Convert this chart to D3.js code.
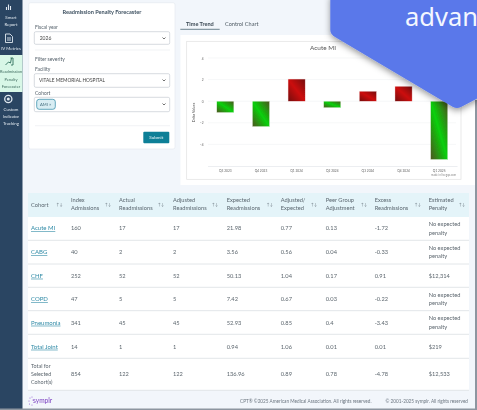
<!DOCTYPE html>
<html><head><meta charset="utf-8">
<script src="https://cdn.jsdelivr.net/npm/d3@7"></script>
<style>html,body{margin:0;padding:0;background:#f2f6fb;overflow:hidden}svg{display:block}text{font-family:Lato,sans-serif}</style>
</head><body><div id="c"></div>
<script>
const quarters=["Q3 2023","Q4 2023","Q1 2024","Q2 2024","Q3 2024","Q4 2024","Q1 2025"];
const deltaValues=[-1.05,-2.35,2.05,-0.6,0.92,1.38,-5.4];
const yTicks=[4,2,0,-2,-4];
const headers=[["Cohort"],["Index","Admissions"],["Actual","Readmissions"],["Adjusted","Readmissions"],["Expected","Readmissions"],["Adjusted/","Expected"],["Peer Group","Adjustment"],["Excess","Readmissions"],["Estimated","Penalty"]];
const cohorts=["Acute MI","CABG","CHF","COPD","Pneumonia","Total Joint"];
const indexAdmissions=["160","40","252","47","341","14","854"];
const actualReadmissions=["17","2","52","5","45","1","122"];
const adjustedReadmissions=["17","2","52","5","45","1","122"];
const expectedReadmissions=["21.98","3.56","50.13","7.42","52.93","0.94","136.96"];
const adjustedExpected=["0.77","0.56","1.04","0.67","0.85","1.06","0.89"];
const peerGroup=["0.13","0.04","0.17","0.03","0.4","0.01","0.78"];
const excess=["-1.72","-0.33","0.91","-0.22","-3.43","0.01","-4.78"];
const penalty=["No expected penalty","No expected penalty","$12,314","No expected penalty","No expected penalty","$219","$12,533"];
const totalLabel=["Total for","Selected","Cohort(s)"];
const navItems=[["Smart","Report"],["IV Metrics"],["Readmission","Penalty","Forecaster"],["Custom","Indicator","Tracking"]];

const svg=d3.select("#c").append("svg").attr("width",477).attr("height",410);
const defs=svg.append("defs");
defs.append("filter").attr("id","soft").attr("x","-2%").attr("y","-2%").attr("width","104%").attr("height","104%")
 .append("feGaussianBlur").attr("stdDeviation",0.45);
const sh=defs.append("filter").attr("id","sh").attr("x","-10%").attr("y","-10%").attr("width","120%").attr("height","130%");
sh.append("feDropShadow").attr("dx",0).attr("dy",2.5).attr("stdDeviation",3).attr("flood-color","#000").attr("flood-opacity",0.4);
const grad=(id,e,m)=>{const g=defs.append("linearGradient").attr("id",id).attr("x1","0").attr("y1","1").attr("x2","1").attr("y2","0");
 g.append("stop").attr("offset","0%").attr("stop-color",e);g.append("stop").attr("offset","50%").attr("stop-color",m);g.append("stop").attr("offset","100%").attr("stop-color",e);};
grad("gG","#4f5220","#08d008");grad("gR","#740b0b","#cc0a0a");

const root=svg.append("g").attr("filter","url(#soft)");
root.append("rect").attr("width",477).attr("height",410).attr("fill","#f2f6fb");
// sidebar
const side=root.append("g");
side.append("rect").attr("width",22.5).attr("height",410).attr("fill","#2b4562");
side.append("rect").attr("y",55).attr("width",22.5).attr("height",37).attr("fill","#d8f7e7");
const sideT=side.append("g");
const navY=[[19,26],[50],[73,80.5,87.5],[111,118,125]];
navItems.forEach((it,i)=>it.forEach((t,j)=>sideT.append("text").attr("x",11).attr("y",navY[i][j]).attr("text-anchor","middle").attr("font-size",i===2?4:(i===3&&j===1?4.2:4.4)).attr("fill",i===2?"#3f6b5f":"#dfe8ef").text(t)));
sideT.append("path").attr("d","M6.500 10V7M8.500 10V4.500M10.500 10V6").attr("stroke","#dfe8ef").attr("stroke-width",1.1).attr("fill","none");
sideT.append("path").attr("d","M5.500 34h4.500l2.500 2.500V42.500H5.500zM7 38h4M7 40h4").attr("stroke","#dfe8ef").attr("stroke-width",.9).attr("fill","none");
sideT.append("path").attr("d","M5.500 65l3-3 2 1 1-5M10.500 58h2.500V65H11").attr("stroke","#2f6f5c").attr("stroke-width",.9).attr("fill","none");
sideT.append("circle").attr("cx",8.3).attr("cy",99).attr("r",3.6).attr("stroke","#dfe8ef").attr("stroke-width",1.3).attr("fill","none");
sideT.append("circle").attr("cx",8.3).attr("cy",99).attr("r",1.5).attr("fill","#dfe8ef");

// form card
const card=root.append("g");
card.append("rect").attr("x",28.7).attr("y",2.7).attr("width",146.3).attr("height",146.3).attr("rx",2).attr("fill","#fff").attr("stroke","#e3e8ee").attr("stroke-width",.6);
const lbl=(x,y,t,s=5,c="#56626c",a="start",w=400)=>card.append("text").attr("x",x).attr("y",y).attr("font-size",s).attr("fill",c).attr("text-anchor",a).attr("font-weight",w).text(t);
lbl(102,13.800,"Readmission Penalty Forecaster",5.6,"#3d5060","middle",700);
lbl(35,28.500,"Fiscal year");lbl(35,60.500,"Filter severity");lbl(35,70.500,"Facility");lbl(35,94.500,"Cohort");
const box=(y,h)=>card.append("rect").attr("x",34.300).attr("y",y).attr("width",135.400).attr("height",h).attr("rx",1.5).attr("fill","#fff").attr("stroke","#c6ccd2").attr("stroke-width",.7);
const chev=(y)=>card.append("path").attr("d",`M162.500 ${y-1}l1.500 1.500 1.500-1.500`).attr("fill","none").attr("stroke","#333").attr("stroke-width",.7);
box(31.700,12.600);chev(38.500);lbl(39.700,40,"2026",5,"#444");
card.append("path").attr("d","M35 50H170M35 125.700H170").attr("stroke","#ebeef1").attr("stroke-width",.7);
box(73.700,13.600);chev(80.500);lbl(39,82.300,"VITALE MEMORIAL HOSPITAL",4.8,"#444");
box(97.300,14.400);chev(104.500);
card.append("rect").attr("x",36.700).attr("y",99.300).attr("width",18.600).attr("height",10).attr("rx",2.500).attr("fill","#d8edf3").attr("stroke","#3f93ad").attr("stroke-width",.8);
lbl(40,106,"AMI ×",4.2,"#3f6a7a");
card.append("rect").attr("x",143.300).attr("y",131.700).attr("width",26).attr("height",11.600).attr("rx",1).attr("fill","#0f7f97");
lbl(156.300,139.300,"Submit",4.6,"#e8f7fa","middle");

// tabs
root.append("text").attr("x",186).attr("y",25.500).attr("font-size",5.600).attr("font-weight",700).attr("fill","#3d4a55").text("Time Trend");
root.append("text").attr("x",225).attr("y",25.500).attr("font-size",5.600).attr("fill","#4e5a63").text("Control Chart");
root.append("path").attr("d","M180.300 29.300H219.700").attr("stroke","#4d6472").attr("stroke-width",.8);
// chart panel
root.append("rect").attr("x",180.500).attr("y",35).attr("width",296.500).attr("height",150).attr("fill","#fff");
const ch=root.append("g");
ch.append("rect").attr("x",186.700).attr("y",41.300).attr("width",274.300).attr("height",138).attr("fill","#fff").attr("stroke","#e0e0e0").attr("stroke-width",.7);
ch.append("text").attr("x",323).attr("y",50).attr("text-anchor","middle").attr("font-size",6.400).attr("fill","#555").text("Acute MI");
const x=d3.scaleBand().domain(quarters).range([207.500,457]).paddingInner(0.52).paddingOuter(0.26);
const y=d3.scaleLinear().domain([-6,4]).range([166,58]);
const ax=ch.append("g").attr("transform","translate(0,166)").call(d3.axisBottom(x).tickSize(0).tickPadding(4));
ax.select(".domain").attr("stroke","#dfe3e8").attr("stroke-width",.6);
ax.selectAll("text").attr("font-size",3.200).attr("fill","#666").style("font-family","Lato,sans-serif");
const ay=ch.append("g").attr("transform","translate(207.500,0)").call(d3.axisLeft(y).tickValues(yTicks).tickSize(0).tickPadding(4).tickFormat(d3.format("d")));
ay.select(".domain").remove();
ay.selectAll("text").attr("font-size",3.200).attr("fill","#666").style("font-family","Lato,sans-serif");
ch.selectAll("line.g").data(yTicks).join("line").attr("class","g").attr("x1",208).attr("x2",456).attr("y1",d=>y(d)).attr("y2",d=>y(d)).attr("stroke","#f0f1f3").attr("stroke-width",.6);
ch.append("text").attr("transform","translate(195,112.500) rotate(-90)").attr("text-anchor","middle").attr("font-size",3.600).attr("fill","#555").text("Delta Values");
ch.selectAll("rect.b").data(deltaValues).join("rect").attr("class","b")
 .attr("x",(d,i)=>x(quarters[i])).attr("width",x.bandwidth())
 .attr("y",d=>y(Math.max(d,0))).attr("height",d=>Math.abs(y(d)-y(0)))
 .attr("fill",d=>d<0?"url(#gG)":"url(#gR)").attr("stroke",d=>d<0?"#e4f4e0":"#f3d8d8").attr("stroke-width",.4);
ch.append("text").attr("x",456).attr("y",176).attr("text-anchor","end").attr("font-size",2.800).attr("fill","#888").text("made in livegap.com");

// table
const t=root.append("g");
const tx0=28,tx1=469;
t.append("rect").attr("x",tx0).attr("y",193).attr("width",tx1-tx0).attr("height",197).attr("fill","#fff");
t.append("rect").attr("x",tx0).attr("y",193).attr("width",tx1-tx0).attr("height",24).attr("fill","#e4f4f9");
const colX=[31,71,119,173,226.700,280.700,325.700,374.700,428.700];
const sortX=[59.500,108,161,215,269.700,314,364,417.700,462];
const rowY=[228.300,252,275.700,299,322.700,346.700,374];
const rules=[240.300,264,287.300,310.700,334.300,358.300,390.300];
t.selectAll("line.r").data(rules).join("line").attr("class","r").attr("x1",tx0).attr("x2",tx1).attr("y1",d=>d).attr("y2",d=>d).attr("stroke","#dfe3e7").attr("stroke-width",.9);
const FS=5.700;
headers.forEach((h,i)=>{
 const ys=h.length===1?[206.800]:[202,210];
 h.forEach((s,j)=>t.append("text").attr("x",colX[i]).attr("y",ys[j]).attr("font-size",FS).attr("fill","#5b6770").text(s));
 t.append("text").attr("x",sortX[i]).attr("y",206).attr("text-anchor","middle").attr("font-size",4.200).attr("fill","#6b7780").text("↑↓");
});
const cols=[indexAdmissions,actualReadmissions,adjustedReadmissions,expectedReadmissions,adjustedExpected,peerGroup,excess];
const cell=(x,y,s,c="#5c666e",fs=FS)=>t.append("text").attr("x",x).attr("y",y).attr("font-size",fs).attr("fill",c).text(s);
rowY.forEach((ry,r)=>{
 if(r<cohorts.length){
  cell(colX[0],ry+2,cohorts[r],"#2f8aa6",6).attr("text-decoration","underline");
 } else totalLabel.forEach((s,j)=>cell(colX[0],ry-8+j*8+2,s,"#5c666e",5.400));
 cols.forEach((c,k)=>cell(colX[k+1],ry+2,c[r]));
 const p=penalty[r];
 if(p.startsWith("No")){cell(colX[8],ry-2.300,"No expected");cell(colX[8],ry+6.200,"penalty");}
 else cell(colX[8],ry+2,p);
});
// footer
const mark=root.append("g");
[[30,398],[32,397],[29,401],[32,405],[29.500,404],[33,400]].forEach(([a,b])=>mark.append("circle").attr("cx",a).attr("cy",b).attr("r",.5).attr("fill","#8a4fd0"));
root.append("text").attr("x",33).attr("y",403).attr("font-size",6.600).attr("fill","#7a3fc0").text("symplr");
root.append("text").attr("x",240).attr("y",403).attr("font-size",4.700).attr("fill","#6c7680").text("CPT® ©2025 American Medical Association. All rights reserved.");
root.append("text").attr("x",468).attr("y",403).attr("text-anchor","end").attr("font-size",4.700).attr("fill","#6c7680").text("© 2001-2025 symplr. All rights reserved");
root.append("rect").attr("x",475).attr("y",100).attr("width",2).attr("height",310).attr("fill","#8d96a0");
root.append("rect").attr("x",0).attr("y",408.500).attr("width",477).attr("height",1.500).attr("fill","#8d96a0");

// banner
const banner=svg.append("g");
banner.append("path").attr("d","M330.300 -5V30Q330.300 34 335 37L453 107Q457 109 461 107L482 96V-5Z").attr("fill","#5a78ea").attr("filter","url(#sh)");
banner.append("text").attr("x",405).attr("y",26).attr("font-size",25.500).style("font-family","'Noto Sans',sans-serif").attr("fill","#f4f7ff").text("advan");
</script></body></html>
